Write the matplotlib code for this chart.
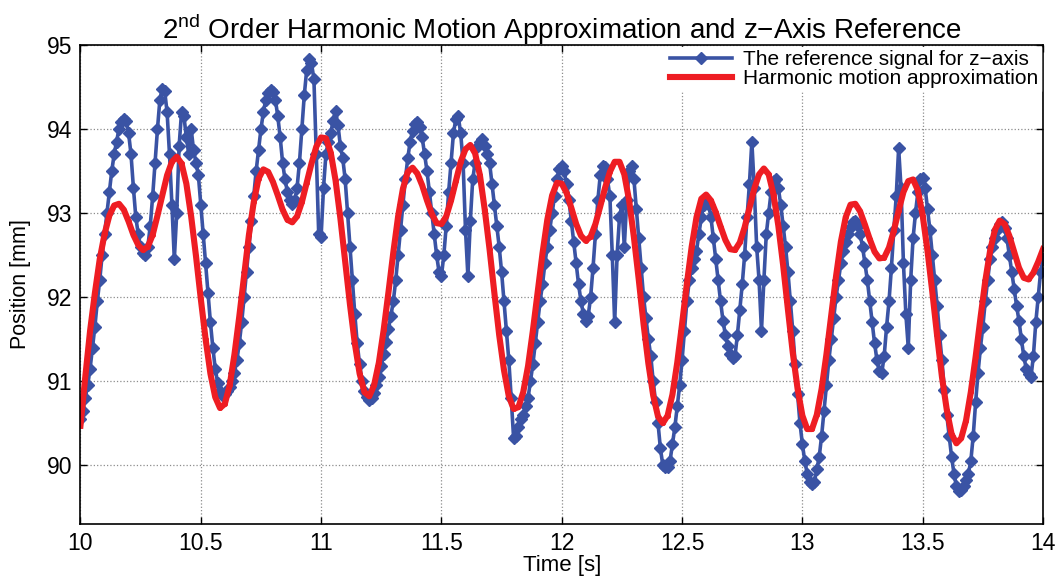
import numpy as np
import matplotlib
matplotlib.use("Agg")
import matplotlib.pyplot as plt

plt.rcParams['font.family'] = ['Liberation Sans', 'DejaVu Sans']
plt.rcParams['mathtext.fontset'] = 'custom'
plt.rcParams['mathtext.rm'] = 'Liberation Sans'

# reference signal for z-axis, sampled every 0.01 s from 10 s to 14 s
t_ref = np.linspace(10, 14, 401)
z_ref = [
    90.55, 90.65, 90.80, 90.95, 91.15, 91.40, 91.65, 91.95, 92.20, 92.50,
    92.75, 93.00, 93.25, 93.50, 93.70, 93.85, 94.00, 94.08, 94.12, 94.10,
    93.95, 93.70, 93.30, 92.95, 92.75, 92.60, 92.52, 92.50, 92.60, 92.85,
    93.20, 93.60, 94.00, 94.35, 94.48, 94.45, 94.20, 93.70, 93.10, 92.45,
    93.00, 93.80, 94.20, 94.15, 93.90, 93.70, 94.00, 93.75, 93.60, 93.45,
    93.10, 92.75, 92.40, 92.05, 91.70, 91.40, 91.15, 90.98, 90.88, 90.84,
    90.85, 90.88, 90.93, 91.00, 91.10, 91.25, 91.45, 91.70, 92.00, 92.30,
    92.60, 92.90, 93.20, 93.50, 93.75, 94.00, 94.20, 94.35, 94.43, 94.46,
    94.44, 94.35, 94.15, 93.90, 93.60, 93.40, 93.25, 93.15, 93.11, 93.15,
    93.30, 93.60, 94.00, 94.40, 94.70, 94.83, 94.78, 94.60, 93.70, 92.75,
    92.72, 93.30, 93.70, 93.85, 93.95, 94.10, 94.22, 94.05, 93.80, 93.65,
    93.40, 93.00, 92.60, 92.20, 91.80, 91.45, 91.20, 91.00, 90.88, 90.81,
    90.78, 90.80, 90.86, 90.95, 91.05, 91.18, 91.32, 91.47, 91.62, 91.78,
    91.95, 92.20, 92.50, 92.80, 93.10, 93.40, 93.65, 93.85, 93.98, 94.06,
    94.08, 94.02, 93.90, 93.70, 93.50, 93.25, 93.00, 92.75, 92.50, 92.30,
    92.25, 92.50, 92.85, 93.25, 93.60, 93.95, 94.12, 94.15, 93.95, 93.60,
    92.80, 92.25, 92.90, 93.40, 93.60, 93.80, 93.85, 93.88, 93.80, 93.70,
    93.60, 93.35, 93.10, 92.85, 92.60, 92.30, 91.95, 91.60, 91.25, 90.80,
    90.32, 90.35, 90.45, 90.55, 90.60, 90.70, 90.80, 91.00, 91.20, 91.45,
    91.70, 91.95, 92.15, 92.40, 92.60, 92.80, 93.00, 93.20, 93.40, 93.53,
    93.56, 93.50, 93.35, 93.15, 92.90, 92.65, 92.40, 92.15, 91.95, 91.80,
    91.72, 91.78, 92.00, 92.35, 92.75, 93.15, 93.45, 93.56, 93.55, 93.40,
    93.20, 92.50, 91.70, 92.50, 92.95, 93.10, 92.60, 93.15, 93.50, 93.56,
    93.40, 93.05, 92.70, 92.35, 92.00, 91.75, 91.50, 91.30, 91.00, 90.75,
    90.50, 90.20, 90.00, 89.98, 89.98, 90.05, 90.25, 90.45, 90.70, 90.95,
    91.25, 91.60, 91.95, 92.20, 92.35, 92.45, 92.55, 92.75, 92.95, 93.10,
    93.15, 93.10, 92.95, 92.70, 92.45, 92.20, 91.95, 91.72, 91.55, 91.42,
    91.32, 91.27, 91.30, 91.55, 91.85, 92.15, 92.50, 92.95, 93.35, 93.85,
    93.30, 92.60, 92.20, 91.60, 92.20, 92.75, 93.00, 93.25, 93.38, 93.40,
    93.30, 93.10, 92.85, 92.60, 92.30, 91.95, 91.60, 91.20, 90.85, 90.50,
    90.25, 90.05, 89.90, 89.80, 89.77, 89.80, 89.95, 90.10, 90.35, 90.65,
    90.95, 91.25, 91.50, 91.75, 92.00, 92.20, 92.40, 92.55, 92.65, 92.75,
    92.83, 92.89, 92.91, 92.85, 92.75, 92.60, 92.40, 92.20, 91.95, 91.70,
    91.45, 91.25, 91.12, 91.10, 91.30, 91.65, 91.95, 92.35, 92.80, 93.20,
    93.77, 93.30, 92.40, 91.80, 91.40, 92.20, 92.70, 93.00, 93.25, 93.40,
    93.42, 93.30, 93.05, 92.80, 92.50, 92.20, 91.90, 91.55, 91.25, 90.90,
    90.60, 90.35, 90.10, 89.90, 89.75, 89.69, 89.70, 89.75, 89.82, 89.90,
    90.05, 90.35, 90.75, 91.10, 91.40, 91.65, 91.95, 92.20, 92.45, 92.60,
    92.70, 92.80, 92.87, 92.89, 92.82, 92.70, 92.50, 92.30, 92.10, 91.90,
    91.72, 91.50, 91.30, 91.15, 91.08, 91.05, 91.30, 91.70, 92.00, 92.30,
    92.45,
]

# harmonic motion approximation, sampled every 0.02 s
t_harm = np.linspace(10, 14, 201)
z_harm = [
    90.47, 91.05, 91.60, 92.05, 92.45, 92.75, 92.97, 93.09, 93.11, 93.04,
    92.90, 92.74, 92.62, 92.56, 92.60, 92.74, 92.97, 93.21, 93.45, 93.61,
    93.67, 93.59, 93.35, 92.96, 92.49, 91.98, 91.50, 91.09, 90.81, 90.68,
    90.73, 90.95, 91.32, 91.77, 92.26, 92.74, 93.13, 93.41, 93.52, 93.49,
    93.37, 93.21, 93.04, 92.92, 92.89, 92.96, 93.13, 93.36, 93.59, 93.79,
    93.90, 93.89, 93.72, 93.39, 92.94, 92.43, 91.91, 91.45, 91.09, 90.87,
    90.82, 90.95, 91.22, 91.61, 92.06, 92.53, 92.96, 93.29, 93.49, 93.54,
    93.47, 93.33, 93.15, 92.99, 92.88, 92.87, 92.96, 93.15, 93.38, 93.61,
    93.76, 93.81, 93.71, 93.45, 93.04, 92.57, 92.05, 91.55, 91.13, 90.82,
    90.67, 90.69, 90.87, 91.18, 91.60, 92.06, 92.52, 92.92, 93.21, 93.36,
    93.35, 93.24, 93.06, 92.87, 92.73, 92.67, 92.72, 92.87, 93.08, 93.30,
    93.49, 93.61, 93.61, 93.46, 93.15, 92.71, 92.21, 91.68, 91.21, 90.83,
    90.58, 90.50, 90.59, 90.84, 91.22, 91.68, 92.16, 92.60, 92.95, 93.17,
    93.22, 93.15, 93.01, 92.84, 92.68, 92.57, 92.56, 92.65, 92.83, 93.06,
    93.29, 93.46, 93.53, 93.46, 93.22, 92.85, 92.38, 91.85, 91.34, 90.91,
    90.59, 90.43, 90.43, 90.60, 90.91, 91.32, 91.79, 92.25, 92.66, 92.95,
    93.10, 93.11, 93.02, 92.86, 92.69, 92.54, 92.46, 92.47, 92.59, 92.79,
    93.03, 93.25, 93.38, 93.40, 93.27, 92.97, 92.55, 92.06, 91.54, 91.05,
    90.66, 90.37, 90.26, 90.32, 90.53, 90.87, 91.29, 91.75, 92.19, 92.55,
    92.80, 92.91, 92.87, 92.73, 92.54, 92.35, 92.23, 92.21, 92.29, 92.42,
    92.57,
]

x_ticks = [10, 10.5, 11, 11.5, 12, 12.5, 13, 13.5, 14]
x_tick_labels = ['10', '10.5', '11', '11.5', '12', '12.5', '13', '13.5', '14']
y_ticks = [90, 91, 92, 93, 94, 95]

blue = '#3a53a4'
red = '#ee1d23'

fig = plt.figure(figsize=(10.63, 5.79), dpi=100)
ax = fig.add_axes([0.0757, 0.0950, 0.9055, 0.8273])

ax.plot(t_ref, z_ref, color=blue, lw=2.6, marker='D', ms=6.3, mec=blue, mfc=blue,
        label='The reference signal for z\u2212axis')
ax.plot(t_harm, z_harm, color=red, lw=4.4, marker='.', ms=5, mec=red, mfc=red,
        label='Harmonic motion approximation')

ax.set_xlim(10, 14)
ax.set_ylim(89.3, 95)
ax.set_xticks(x_ticks)
ax.set_xticklabels(x_tick_labels)
ax.set_yticks(y_ticks)
ax.grid(True, linestyle=':', color='#8c8c8c', linewidth=0.9)
ax.tick_params(direction='in', top=True, right=True, length=5, width=1,
               labelsize=16.5, pad=6)
for s in ax.spines.values():
    s.set_linewidth(1.2)

ax.set_xlabel('Time [s]', fontsize=16, labelpad=0)
ax.set_ylabel('Position [mm]', fontsize=15.5, labelpad=11)
ax.set_title('2$^{\\mathrm{nd}}$ Order Harmonic Motion Approximation and z\u2212Axis Reference',
             fontsize=20, pad=4)

leg = ax.legend(loc='upper right', fontsize=15, frameon=True, fancybox=False,
                edgecolor='white', framealpha=1, borderaxespad=0.1,
                handlelength=3.0, handletextpad=0.5, labelspacing=0.0,
                borderpad=0.15)

plt.savefig('out.png', dpi=100)
plt.close()
